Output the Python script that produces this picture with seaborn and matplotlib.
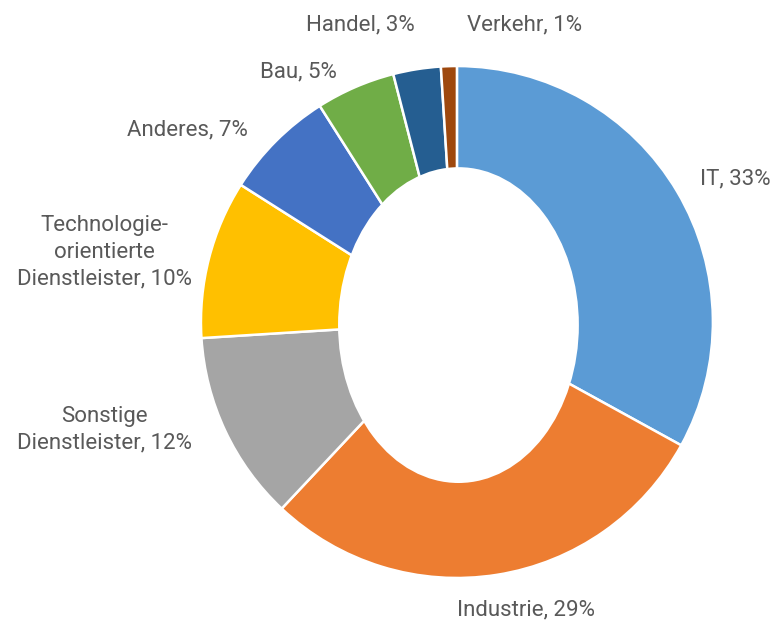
import numpy as np
import seaborn as sns
import matplotlib.pyplot as plt
from matplotlib.patches import Ellipse

sns.set_style('white')
plt.rcParams['font.family'] = ['Roboto', 'DejaVu Sans']

# data
sectors = ['IT', 'Industrie', 'Sonstige\nDienstleister', 'Technologie-\norientierte\nDienstleister',
           'Anderes', 'Bau', 'Handel', 'Verkehr']
shares = [33, 29, 12, 10, 7, 5, 3, 1]
colors = ['#5B9BD5', '#ED7D31', '#A5A5A5', '#FFC000', '#4472C4', '#70AD47', '#255E91', '#9E480E']

# label anchor positions (axes data units, radius = 1) and alignment
label_pos = [(0.95, 0.56, 'left'), (0.0, -1.125, 'left'), (-1.035, -0.42, 'right'),
             (-1.035, 0.273, 'right'), (-0.816, 0.75, 'right'), (-0.469, 0.977, 'right'),
             (-0.164, 1.16, 'right'), (0.039, 1.16, 'left')]

fig = plt.figure(figsize=(7.81, 6.22), dpi=100)
ax = fig.add_axes([0, 0, 1, 1])

wedges, _ = ax.pie(shares, colors=colors, startangle=90, counterclock=False,
                   wedgeprops=dict(edgecolor='white', linewidth=1.8))

# elliptical hole like in the original
ax.add_patch(Ellipse((0.006, -0.012), 0.941, 1.234, facecolor='white', edgecolor='none', zorder=5))

for name, val, (x, y, ha) in zip(sectors, shares, label_pos):
    ax.text(x, y, f'{name}, {val}%', ha=ha, va='center', multialignment='center',
            fontsize=16, color='#595959', linespacing=1.35)

ax.set_xlim(-1.785, 1.266)
ax.set_ylim(-1.172, 1.258)
ax.set_aspect('equal')
ax.axis('off')

plt.savefig('out.png', dpi=100)
